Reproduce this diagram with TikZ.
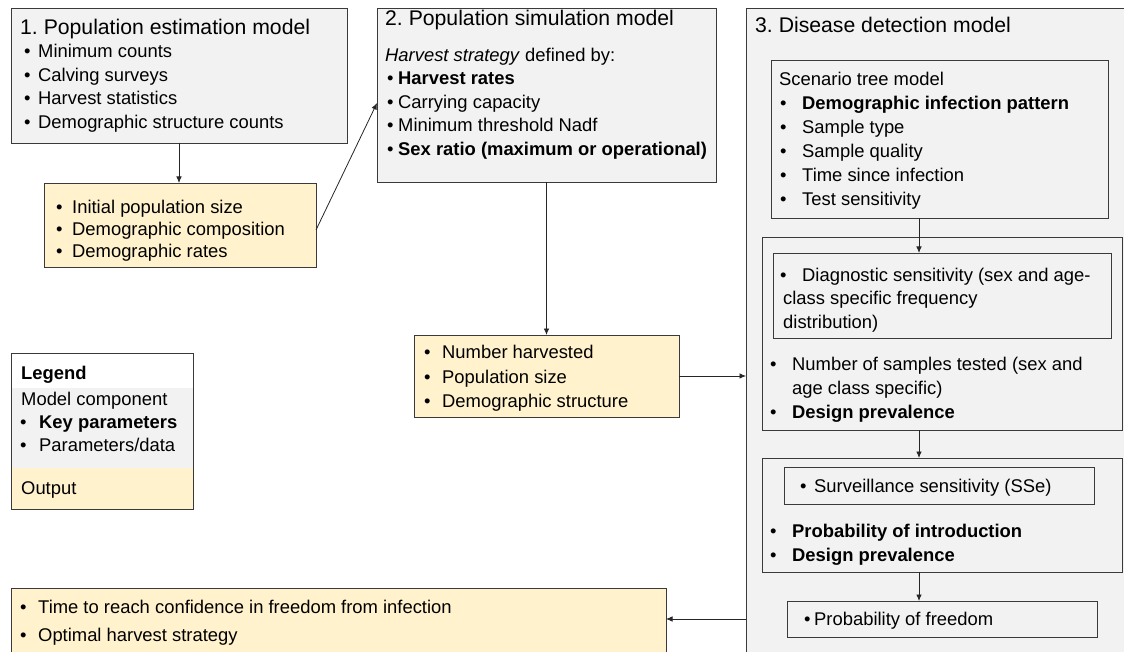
\documentclass[tikz,border=0pt]{standalone}
\usepackage{fontspec}
\setmainfont{Liberation Sans}
\usetikzlibrary{arrows.meta,calc}
\frenchspacing
\definecolor{boxgray}{HTML}{F2F2F2}
\definecolor{outyel}{HTML}{FFF2CC}
\definecolor{edgecol}{HTML}{3A3A3A}
\tikzset{
  boxbase/.style={draw=edgecol, line width=0.9pt, inner sep=0pt, outer sep=0pt, anchor=north west},
  gbox/.style={boxbase, fill=boxgray},
  ybox/.style={boxbase, fill=outyel},
  txt/.style={inner sep=0pt, anchor=base west, font=\fontsize{18.4}{22}\selectfont},
  ttl/.style={inner sep=0pt, anchor=base west, font=\fontsize{21.2}{25}\selectfont},
  arr/.style={draw=black!85, line width=0.8pt, -{Latex[length=6.5pt,width=5.5pt]}},
}
\newcommand\bitem[5]{\node[txt] (#1) at (#2,#4) {\makebox[\dimexpr #3pt-#2pt\relax][l]{•}#5};}
\begin{document}
\begin{tikzpicture}[x=1pt,y=-1pt]
\useasboundingbox (0,0) rectangle (1124,652);
\clip (0,0) rectangle (1124,652);
\fill[white] (0,0) rectangle (1124,652);

% ---------- Box 1 ----------
\node[gbox, minimum width=336pt, minimum height=135pt] (b1) at (11,8) {};
\node[ttl] (b1t) at (20,35) {1. Population estimation model};
\bitem{b1a}{24}{38}{58}{Minimum counts}
\bitem{b1b}{24}{38}{81.5}{Calving surveys}
\bitem{b1c}{24}{38}{105}{Harvest statistics}
\bitem{b1d}{24}{38}{128.5}{Demographic structure counts}

% ---------- Output 1 ----------
\node[ybox, minimum width=272pt, minimum height=84pt] (o1) at (44,183) {};
\bitem{o1a}{56}{72}{214}{Initial population size}
\bitem{o1b}{56}{72}{236}{Demographic composition}
\bitem{o1c}{56}{72}{258}{Demographic rates}

% ---------- Box 2 ----------
\node[gbox, minimum width=339pt, minimum height=174pt] (b2) at (377,8) {};
\node[ttl] (b2t) at (385,26) {2. Population simulation model};
\node[txt] (b2s) at (385,62) {\textit{Harvest strategy} defined by:};
\bitem{b2a}{387}{398}{85}{\textbf{Harvest rates}}
\bitem{b2b}{387}{398}{108.5}{Carrying capacity}
\bitem{b2c}{387}{398}{132}{Minimum threshold Nadf}
\bitem{b2d}{387}{398}{155.5}{\textbf{Sex ratio (maximum or operational)}}

% ---------- Output 2 ----------
\node[ybox, minimum width=265pt, minimum height=82pt] (o2) at (414,335) {};
\bitem{o2a}{424}{442}{358}{Number harvested}
\bitem{o2b}{424}{442}{383}{Population size}
\bitem{o2c}{424}{442}{407}{Demographic structure}

% ---------- Box 3 ----------
\node[gbox, minimum width=420pt, minimum height=680pt] (b3) at (746,8) {};
\node[ttl] (b3t) at (755,33) {3. Disease detection model};

\node[gbox, minimum width=337pt, minimum height=158pt] (scen) at (771,60) {};
\node[txt] (scent) at (779,86) {Scenario tree model};
\bitem{sca}{780}{802}{110}{\textbf{Demographic infection pattern}}
\bitem{scb}{780}{802}{134}{Sample type}
\bitem{scc}{780}{802}{158}{Sample quality}
\bitem{scd}{780}{802}{182}{Time since infection}
\bitem{sce}{780}{802}{206}{Test sensitivity}

\node[gbox, minimum width=360pt, minimum height=193pt] (mid) at (762,237) {};
\node[gbox, minimum width=338pt, minimum height=85pt] (diag) at (773,253) {};
\bitem{dga}{780}{802}{281}{Diagnostic sensitivity (sex and age-}
\node[txt] (dgb) at (783,305) {class specific frequency};
\node[txt] (dgc) at (783,328.5) {distribution)};
\bitem{mda}{770}{792}{370}{Number of samples tested (sex and}
\node[txt] (mdb) at (792,394) {age class specific)};
\bitem{mdc}{770}{792}{418}{\textbf{Design prevalence}}

\node[gbox, minimum width=360pt, minimum height=114pt] (sseout) at (762,458) {};
\node[gbox, minimum width=310pt, minimum height=37pt] (sse) at (784,467) {};
\bitem{ssa}{800}{814}{492}{Surveillance sensitivity (SSe)}
\bitem{ssb}{770}{792}{537}{\textbf{Probability of introduction}}
\bitem{ssc}{770}{792}{561}{\textbf{Design prevalence}}

\node[gbox, minimum width=310pt, minimum height=36pt] (pf) at (787,601) {};
\bitem{pfa}{804}{814}{625}{Probability of freedom}

% ---------- Final output ----------
\node[ybox, minimum width=655pt, minimum height=90pt] (fin) at (11,588) {};
\bitem{fia}{20}{38}{613}{Time to reach confidence in freedom from infection}
\bitem{fib}{20}{38}{641}{Optimal harvest strategy}

% ---------- Legend ----------
\node[inner sep=0pt, outer sep=0pt, anchor=north west, fill=white, minimum width=182pt, minimum height=35pt] (lgw) at (11,353) {};
\node[inner sep=0pt, outer sep=0pt, anchor=north west, fill=boxgray, minimum width=182pt, minimum height=80pt] (lgg) at (11,388) {};
\node[inner sep=0pt, outer sep=0pt, anchor=north west, fill=outyel, minimum width=182pt, minimum height=41pt] (lgy) at (11,468) {};
\node[boxbase, minimum width=182pt, minimum height=156pt] (lg) at (11,353) {};
\node[txt] (lgt) at (21,379) {\textbf{Legend}};
\node[txt] (lgm) at (21,405) {Model component};
\bitem{lgk}{20}{39}{428}{\textbf{Key parameters}}
\bitem{lgp}{20}{39}{451}{Parameters/data}
\node[txt] (lgo) at (21,494) {Output};

% ---------- Connectors ----------
\coordinate (ax) at (919,0);
\draw[arr] (b1.south) -- (b1.south |- o1.north);
\draw[arr] ([yshift=-5pt]o1.east) -- ([yshift=-8pt]b2.west);
\draw[arr] (b2.south) -- (o2.north);
\draw[arr] (o2.east) -- (o2.east -| b3.west);
\draw[arr] (scen.south -| ax) -- (diag.north -| ax);
\draw[arr] (mid.south -| ax) -- (sseout.north -| ax);
\draw[arr] (sseout.south -| ax) -- (pf.north -| ax);
\draw[arr] (pf.west -| b3.west) -- (pf.west -| fin.east);
\end{tikzpicture}
\end{document}
